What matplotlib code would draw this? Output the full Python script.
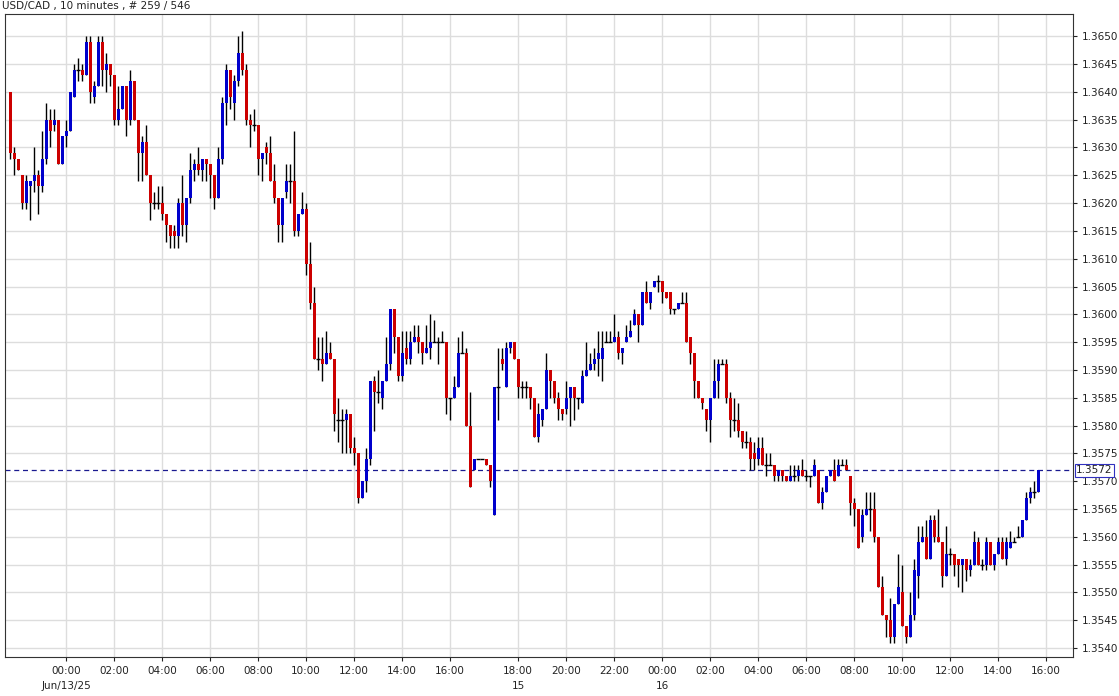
import numpy as np
import matplotlib
matplotlib.use("Agg")
import matplotlib.pyplot as plt

# USD/CAD 10-minute candles (open, high, low, close)
opens = [1.3640,1.3629,1.3628,1.3625,1.3620,1.3623,1.3624,1.3625,1.3623,1.3628,
         1.3635,1.3634,1.3635,1.3627,1.3632,1.3633,1.3639,1.3644,1.3644,1.3643,
         1.3649,1.3639,1.3641,1.3649,1.3644,1.3645,1.3643,1.3635,1.3637,1.3641,
         1.3635,1.3642,1.3635,1.3629,1.3631,1.3625,1.3620,1.3620,1.3620,1.3618,
         1.3616,1.3615,1.3614,1.3620,1.3616,1.3621,1.3626,1.3627,1.3626,1.3628,
         1.3627,1.3625,1.3621,1.3628,1.3638,1.3644,1.3638,1.3642,1.3647,1.3644,
         1.3635,1.3634,1.3634,1.3628,1.3630,1.3629,1.3624,1.3621,1.3616,1.3622,
         1.3624,1.3624,1.3615,1.3618,1.3619,1.3609,1.3602,1.3592,1.3592,1.3591,
         1.3593,1.3592,1.3581,1.3581,1.3581,1.3582,1.3576,1.3575,1.3567,1.3570,
         1.3574,1.3588,1.3586,1.3585,1.3588,1.3591,1.3601,1.3596,1.3589,1.3594,
         1.3592,1.3595,1.3596,1.3595,1.3593,1.3594,1.3595,1.3595,1.3595,1.3595,
         1.3585,1.3585,1.3587,1.3593,1.3593,1.3580,1.3572,1.3574,1.3574,1.3574,
         1.3573,1.3564,1.3587,1.3592,1.3587,1.3594,1.3595,1.3592,1.3587,1.3587,
         1.3587,1.3585,1.3578,1.3581,1.3583,1.3590,1.3588,1.3585,1.3583,1.3583,
         1.3585,1.3587,1.3585,1.3584,1.3589,1.3590,1.3591,1.3592,1.3592,1.3595,
         1.3595,1.3595,1.3596,1.3593,1.3595,1.3596,1.3598,1.3600,1.3598,1.3604,
         1.3602,1.3605,1.3606,1.3606,1.3604,1.3604,1.3601,1.3601,1.3602,1.3602,
         1.3596,1.3593,1.3588,1.3585,1.3583,1.3581,1.3585,1.3588,1.3591,1.3591,
         1.3585,1.3581,1.3581,1.3579,1.3577,1.3577,1.3575,1.3574,1.3576,1.3573,
         1.3573,1.3573,1.3571,1.3572,1.3571,1.3570,1.3571,1.3571,1.3572,1.3571,
         1.3571,1.3571,1.3572,1.3566,1.3568,1.3571,1.3572,1.3571,1.3573,1.3573,
         1.3571,1.3566,1.3565,1.3560,1.3564,1.3565,1.3565,1.3560,1.3551,1.3546,
         1.3545,1.3542,1.3548,1.3550,1.3544,1.3542,1.3546,1.3553,1.3559,1.3560,
         1.3556,1.3563,1.3560,1.3559,1.3553,1.3557,1.3557,1.3556,1.3555,1.3556,
         1.3554,1.3555,1.3559,1.3555,1.3555,1.3559,1.3555,1.3557,1.3559,1.3556,
         1.3558,1.3559,1.3560,1.3560,1.3563,1.3567,1.3568,1.3568]
highs = [1.3640,1.3630,1.3628,1.3625,1.3625,1.3624,1.3630,1.3626,1.3633,1.3638,
         1.3637,1.3637,1.3635,1.3632,1.3635,1.3640,1.3645,1.3646,1.3645,1.3650,
         1.3650,1.3642,1.3650,1.3650,1.3647,1.3645,1.3643,1.3641,1.3641,1.3641,
         1.3644,1.3642,1.3635,1.3632,1.3634,1.3625,1.3622,1.3623,1.3623,1.3618,
         1.3616,1.3616,1.3621,1.3625,1.3621,1.3629,1.3628,1.3630,1.3628,1.3628,
         1.3627,1.3625,1.3630,1.3639,1.3645,1.3644,1.3643,1.3650,1.3651,1.3645,
         1.3636,1.3637,1.3634,1.3629,1.3631,1.3632,1.3627,1.3621,1.3621,1.3627,
         1.3627,1.3633,1.3618,1.3622,1.3620,1.3613,1.3605,1.3596,1.3596,1.3597,
         1.3595,1.3592,1.3585,1.3583,1.3583,1.3582,1.3578,1.3575,1.3570,1.3576,
         1.3588,1.3589,1.3590,1.3588,1.3596,1.3601,1.3601,1.3596,1.3597,1.3597,
         1.3597,1.3598,1.3598,1.3595,1.3598,1.3600,1.3599,1.3596,1.3597,1.3595,
         1.3585,1.3589,1.3596,1.3597,1.3594,1.3586,1.3574,1.3574,1.3574,1.3574,
         1.3573,1.3587,1.3594,1.3594,1.3595,1.3595,1.3595,1.3592,1.3588,1.3588,
         1.3587,1.3585,1.3584,1.3583,1.3593,1.3590,1.3588,1.3586,1.3583,1.3588,
         1.3587,1.3587,1.3585,1.3590,1.3595,1.3593,1.3594,1.3597,1.3597,1.3597,
         1.3597,1.3600,1.3597,1.3594,1.3598,1.3599,1.3601,1.3600,1.3604,1.3606,
         1.3604,1.3606,1.3607,1.3606,1.3604,1.3604,1.3601,1.3602,1.3604,1.3604,
         1.3596,1.3593,1.3588,1.3585,1.3583,1.3585,1.3592,1.3592,1.3592,1.3592,
         1.3586,1.3585,1.3584,1.3579,1.3579,1.3578,1.3577,1.3578,1.3578,1.3575,
         1.3575,1.3573,1.3572,1.3572,1.3571,1.3573,1.3573,1.3573,1.3574,1.3572,
         1.3571,1.3574,1.3572,1.3569,1.3571,1.3572,1.3574,1.3574,1.3574,1.3574,
         1.3571,1.3567,1.3565,1.3565,1.3568,1.3568,1.3568,1.3560,1.3553,1.3546,
         1.3549,1.3548,1.3557,1.3555,1.3544,1.3550,1.3556,1.3562,1.3562,1.3563,
         1.3564,1.3564,1.3565,1.3559,1.3562,1.3558,1.3557,1.3556,1.3556,1.3556,
         1.3556,1.3561,1.3560,1.3556,1.3560,1.3559,1.3557,1.3560,1.3560,1.3560,
         1.3561,1.3560,1.3562,1.3563,1.3568,1.3569,1.3570,1.3572]
lows = [1.3628,1.3625,1.3626,1.3619,1.3619,1.3617,1.3622,1.3618,1.3622,1.3627,
        1.3630,1.3633,1.3627,1.3627,1.3630,1.3633,1.3639,1.3642,1.3642,1.3643,
        1.3638,1.3638,1.3641,1.3641,1.3640,1.3641,1.3634,1.3634,1.3637,1.3632,
        1.3634,1.3635,1.3624,1.3624,1.3625,1.3617,1.3619,1.3619,1.3617,1.3613,
        1.3612,1.3612,1.3612,1.3614,1.3613,1.3620,1.3624,1.3625,1.3624,1.3624,
        1.3621,1.3619,1.3621,1.3627,1.3634,1.3637,1.3635,1.3641,1.3643,1.3634,
        1.3630,1.3633,1.3625,1.3624,1.3627,1.3624,1.3620,1.3613,1.3613,1.3621,
        1.3620,1.3614,1.3614,1.3618,1.3607,1.3601,1.3592,1.3590,1.3588,1.3591,
        1.3592,1.3579,1.3577,1.3575,1.3575,1.3575,1.3573,1.3566,1.3567,1.3568,
        1.3573,1.3579,1.3584,1.3583,1.3588,1.3590,1.3593,1.3588,1.3588,1.3591,
        1.3591,1.3595,1.3593,1.3591,1.3593,1.3592,1.3595,1.3591,1.3595,1.3582,
        1.3581,1.3585,1.3587,1.3593,1.3580,1.3569,1.3572,1.3574,1.3574,1.3573,
        1.3569,1.3564,1.3581,1.3590,1.3587,1.3593,1.3592,1.3585,1.3585,1.3585,
        1.3583,1.3578,1.3577,1.3580,1.3583,1.3585,1.3584,1.3581,1.3581,1.3582,
        1.3580,1.3581,1.3583,1.3584,1.3589,1.3590,1.3590,1.3589,1.3588,1.3595,
        1.3595,1.3595,1.3592,1.3591,1.3595,1.3596,1.3598,1.3595,1.3598,1.3602,
        1.3601,1.3605,1.3604,1.3602,1.3603,1.3600,1.3600,1.3601,1.3602,1.3595,
        1.3591,1.3585,1.3585,1.3583,1.3579,1.3577,1.3585,1.3585,1.3591,1.3584,
        1.3578,1.3579,1.3578,1.3576,1.3576,1.3572,1.3572,1.3573,1.3573,1.3571,
        1.3573,1.3570,1.3570,1.3570,1.3570,1.3570,1.3570,1.3570,1.3571,1.3570,
        1.3569,1.3571,1.3566,1.3565,1.3568,1.3571,1.3570,1.3571,1.3573,1.3572,
        1.3564,1.3562,1.3558,1.3559,1.3564,1.3561,1.3559,1.3551,1.3546,1.3542,
        1.3541,1.3541,1.3548,1.3544,1.3541,1.3542,1.3545,1.3549,1.3559,1.3556,
        1.3556,1.3559,1.3559,1.3551,1.3553,1.3555,1.3553,1.3551,1.3550,1.3552,
        1.3553,1.3555,1.3555,1.3554,1.3554,1.3555,1.3554,1.3557,1.3556,1.3555,
        1.3558,1.3559,1.3560,1.3560,1.3563,1.3566,1.3567,1.3568]
closes = [1.3629,1.3628,1.3626,1.3620,1.3624,1.3624,1.3625,1.3623,1.3628,1.3635,
          1.3633,1.3635,1.3627,1.3632,1.3633,1.3640,1.3644,1.3644,1.3643,1.3649,
          1.3640,1.3641,1.3649,1.3644,1.3645,1.3643,1.3635,1.3637,1.3641,1.3635,
          1.3642,1.3635,1.3629,1.3631,1.3625,1.3620,1.3620,1.3620,1.3618,1.3616,
          1.3614,1.3614,1.3620,1.3616,1.3621,1.3626,1.3627,1.3626,1.3628,1.3627,
          1.3625,1.3621,1.3628,1.3638,1.3644,1.3639,1.3642,1.3647,1.3644,1.3635,
          1.3634,1.3634,1.3628,1.3629,1.3629,1.3624,1.3621,1.3616,1.3621,1.3624,
          1.3624,1.3615,1.3618,1.3619,1.3609,1.3602,1.3592,1.3592,1.3591,1.3593,
          1.3592,1.3582,1.3581,1.3581,1.3582,1.3576,1.3575,1.3567,1.3570,1.3574,
          1.3588,1.3586,1.3586,1.3588,1.3591,1.3601,1.3596,1.3589,1.3593,1.3592,
          1.3595,1.3596,1.3595,1.3593,1.3594,1.3595,1.3595,1.3595,1.3595,1.3585,
          1.3585,1.3587,1.3593,1.3593,1.3580,1.3569,1.3574,1.3574,1.3574,1.3573,
          1.3570,1.3587,1.3587,1.3591,1.3594,1.3595,1.3592,1.3587,1.3587,1.3587,
          1.3585,1.3578,1.3582,1.3583,1.3590,1.3588,1.3585,1.3583,1.3582,1.3585,
          1.3587,1.3585,1.3585,1.3589,1.3590,1.3591,1.3592,1.3593,1.3594,1.3595,
          1.3595,1.3596,1.3593,1.3594,1.3596,1.3597,1.3600,1.3598,1.3604,1.3602,
          1.3604,1.3606,1.3606,1.3604,1.3603,1.3601,1.3601,1.3602,1.3602,1.3595,
          1.3593,1.3588,1.3585,1.3584,1.3581,1.3585,1.3588,1.3591,1.3591,1.3585,
          1.3581,1.3581,1.3579,1.3577,1.3577,1.3574,1.3574,1.3576,1.3573,1.3573,
          1.3573,1.3571,1.3572,1.3571,1.3570,1.3571,1.3571,1.3572,1.3571,1.3571,
          1.3571,1.3573,1.3566,1.3568,1.3571,1.3572,1.3570,1.3573,1.3573,1.3572,
          1.3566,1.3565,1.3558,1.3564,1.3565,1.3565,1.3560,1.3551,1.3546,1.3545,
          1.3542,1.3548,1.3551,1.3544,1.3542,1.3546,1.3554,1.3559,1.3560,1.3556,
          1.3563,1.3560,1.3559,1.3553,1.3557,1.3557,1.3555,1.3555,1.3556,1.3554,
          1.3555,1.3559,1.3555,1.3555,1.3559,1.3555,1.3557,1.3559,1.3556,1.3559,
          1.3559,1.3559,1.3560,1.3563,1.3567,1.3568,1.3568,1.3572]

# candle index -> time labels (weekend gap between Friday 17:00 and Sunday 17:00)
tick_idx = [14, 26, 38, 50, 62, 74, 86, 98, 110, 127, 139, 151, 163, 175,
            187, 199, 211, 223, 235, 247, 259]
tick_lbl = ["00:00", "02:00", "04:00", "06:00", "08:00", "10:00", "12:00", "14:00",
            "16:00", "18:00", "20:00", "22:00", "00:00", "02:00", "04:00", "06:00",
            "08:00", "10:00", "12:00", "14:00", "16:00"]
date_idx = [14, 127, 163]
date_lbl = ["Jun/13/25", "15", "16"]
last_price = 1.3572

fig = plt.figure(figsize=(11.19, 6.96), dpi=100)
ax = fig.add_axes([5 / 1119, 1 - 657 / 696, 1068 / 1119, 643 / 696])

o = np.array(opens); h = np.array(highs); l = np.array(lows); c = np.array(closes)
x = np.arange(len(o))

ax.vlines(x, l, h, color="black", linewidth=1.0, zorder=2)
up = c > o
down = c < o
flat = c == o
ax.bar(x[up], (c - o)[up], bottom=o[up], width=0.75, color="#0000cc", zorder=3)
ax.bar(x[down], (o - c)[down], bottom=c[down], width=0.75, color="#cc0000", zorder=3)
ax.hlines(o[flat], x[flat] - 0.45, x[flat] + 0.45, color="black", linewidth=1.0, zorder=3)

ax.axhline(last_price, color="#1a1a90", linestyle=(0, (4, 3)), linewidth=0.9, zorder=1)

ax.set_xlim(-1.25, 265.75)
ax.set_ylim(1.35384, 1.36540)
ax.set_yticks(np.arange(1.3540, 1.36501, 0.0005))
ax.yaxis.tick_right()
ax.yaxis.set_major_formatter(matplotlib.ticker.FormatStrFormatter("%.4f"))
ax.set_xticks(tick_idx)
ax.set_xticklabels(tick_lbl)
ax.tick_params(axis="both", labelsize=7.5, length=3, colors="#222222")
ax.grid(color="#dddddd", linewidth=1.0, zorder=0)
ax.set_axisbelow(True)
for s in ax.spines.values():
    s.set_color("#333333")

for i, t in zip(date_idx, date_lbl):
    ax.text(i, -0.045, t, transform=ax.get_xaxis_transform(), ha="center", va="center",
            fontsize=7.5, color="#222222")

ax.text(1.003, (last_price - 1.35384) / (1.36540 - 1.35384), "%.4f" % last_price,
        transform=ax.transAxes, ha="left", va="center", fontsize=7.5, color="#222222",
        bbox=dict(boxstyle="square,pad=0.15", fc="white", ec="#3030c0", lw=0.8))

fig.text(2 / 1119, 1 - 6 / 696, "USD/CAD , 10 minutes , # 259 / 546", fontsize=7.5,
         va="center", ha="left", color="#222222")

fig.savefig("out.png", dpi=100)
